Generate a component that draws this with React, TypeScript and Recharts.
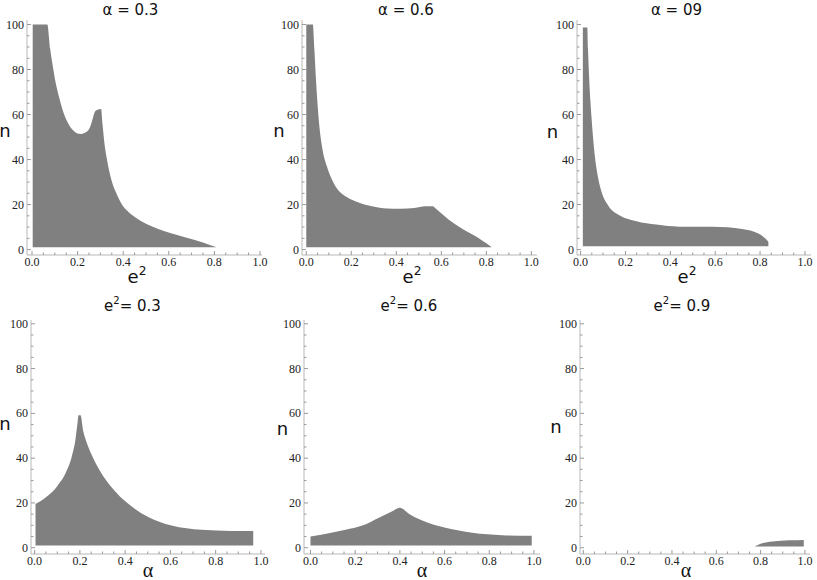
import React from 'react';
import { ComposedChart, Area, XAxis, YAxis } from 'recharts';

// ---- tick values ----
const xTicks = [0, 0.05, 0.1, 0.15, 0.2, 0.25, 0.3, 0.35, 0.4, 0.45, 0.5, 0.55, 0.6, 0.65, 0.7, 0.75, 0.8, 0.85, 0.9, 0.95, 1];
const xMajor = [0, 0.2, 0.4, 0.6, 0.8, 1];
const yTicks = [0, 5, 10, 15, 20, 25, 30, 35, 40, 45, 50, 55, 60, 65, 70, 75, 80, 85, 90, 95, 100];
const yMajor = [0, 20, 40, 60, 80, 100];

// ---- panel 1: alpha = 0.3 (n vs e^2) ----
const p1X = [0.003, 0.067, 0.08, 0.092, 0.104, 0.118, 0.133, 0.156, 0.18, 0.2, 0.213, 0.23, 0.25, 0.262, 0.276, 0.285, 0.303, 0.31, 0.318, 0.327, 0.349, 0.37, 0.393, 0.42, 0.452, 0.5, 0.554, 0.61, 0.671, 0.75, 0.81];
const p1Upper = [100, 100, 89, 81, 74, 68, 62.5, 56.6, 53, 51.6, 51.4, 51.8, 53.5, 56.6, 61.2, 62, 62.5, 55, 47, 41, 30.7, 25, 20.3, 17, 14.4, 11.5, 9.2, 7.3, 5.5, 3.2, 1];
const p1Lower = 1;

// ---- panel 2: alpha = 0.6 ----
const p2X = [0.0, 0.029, 0.036, 0.044, 0.054, 0.072, 0.091, 0.121, 0.145, 0.172, 0.217, 0.291, 0.36, 0.42, 0.48, 0.53, 0.56, 0.58, 0.632, 0.691, 0.765, 0.8, 0.824];
const p2Upper = [100, 100, 89, 74, 59.4, 44.6, 37.1, 29.7, 26, 23.8, 21.5, 19.3, 18.3, 18.2, 18.5, 19.3, 19.3, 17.8, 13.4, 9.4, 5.2, 2.8, 1];
const p2Lower = 1;

// ---- panel 3: alpha = 09 ----
const p3X = [0.01, 0.03, 0.033, 0.039, 0.048, 0.06, 0.076, 0.094, 0.123, 0.175, 0.249, 0.338, 0.44, 0.59, 0.72, 0.795, 0.825, 0.837];
const p3Upper = [98.7, 98.7, 89.4, 74.5, 59.7, 44.9, 33, 25.5, 19.6, 15.1, 12.6, 11.1, 10.2, 10.2, 9.2, 7, 4.8, 3.5];
const p3Lower = 1.5;

// ---- panel 4: e^2 = 0.3 (n vs alpha) ----
const p4X = [0.004, 0.05, 0.1, 0.14, 0.165, 0.18, 0.19, 0.194, 0.203, 0.215, 0.23, 0.252, 0.289, 0.34, 0.414, 0.502, 0.605, 0.738, 0.87, 0.966];
const p4Upper = [19.5, 22.5, 27.5, 34, 41, 48, 56, 59.2, 59.2, 52, 47, 41.5, 34.3, 27, 19.6, 13.7, 9.9, 8, 7.5, 7.5];
const p4Lower = 1;

// ---- panel 5: e^2 = 0.6 ----
const p5X = [0, 0.082, 0.157, 0.232, 0.306, 0.366, 0.4, 0.44, 0.5, 0.604, 0.724, 0.858, 0.99];
const p5Upper = [5, 6.5, 8, 9.9, 13.4, 16.3, 17.9, 15.2, 12.2, 8.9, 6.7, 5.6, 5.3];
const p5Lower = 1;

// ---- panel 6: e^2 = 0.9 ----
const p6X = [0.775, 0.8, 0.853, 0.929, 0.995];
const p6Upper = [0.7, 1.8, 2.8, 3.3, 3.5];
const p6Lower = 0.5;

const FRAME = '#b8b8b8';
const TICK = '#9a9a9a';
const FILL = '#808080';
const SERIF = '"Liberation Serif", "DejaVu Serif", serif';
const SANS = '"DejaVu Sans", sans-serif';

function buildData(xs: number[], up: number[], lo: number) {
  return xs.map((x, i) => ({ x, range: [lo, up[i]] }));
}

const isIn = (arr: number[], v: number) => arr.some((m) => Math.abs(m - v) < 1e-9);

const labelStyle: React.CSSProperties = { fontFamily: SERIF, fontSize: 12 };

function makeTick(side: 'bottom' | 'top' | 'left' | 'right') {
  return (props: any) => {
    const { x, y, payload } = props;
    const v = payload.value as number;
    const major = side === 'bottom' || side === 'top' ? isIn(xMajor, v) : isIn(yMajor, v);
    const len = major ? 4 : 2.5;
    if (side === 'bottom') {
      return (
        <g>
          <line x1={x} y1={y} x2={x} y2={y - len} stroke={TICK} strokeWidth={1} />
          {major && (
            <text x={x} y={y + 11} textAnchor="middle" style={labelStyle} fill="#222">
              {v.toFixed(1)}
            </text>
          )}
        </g>
      );
    }
    if (side === 'top') {
      return <line x1={x} y1={y} x2={x} y2={y + len} stroke={TICK} strokeWidth={1} />;
    }
    if (side === 'left') {
      return (
        <g>
          <line x1={x} y1={y} x2={x + len} y2={y} stroke={TICK} strokeWidth={1} />
          {major && (
            <text x={x - 3} y={y + 4} textAnchor="end" style={labelStyle} fill="#222">
              {String(v)}
            </text>
          )}
        </g>
      );
    }
    return <line x1={x} y1={y} x2={x - len} y2={y} stroke={TICK} strokeWidth={1} />;
  };
}

type PanelProps = {
  left: number;
  top: number;
  w: number;
  h: number;
  xDomain: [number, number];
  yDomain: [number, number];
  data: { x: number; range: number[] }[];
};

function Panel({ left, top, w, h, xDomain, yDomain, data }: PanelProps) {
  const ML = 30, MT = 8, MR = 10, MB = 22;
  return (
    <div style={{ position: 'absolute', left: left - ML, top: top - MT, width: w + ML + MR, height: h + MT + MB }}>
      <ComposedChart width={w + ML + MR} height={h + MT + MB} data={data} margin={{ top: MT, right: MR, left: 0, bottom: 0 }}>
        <XAxis xAxisId="b" dataKey="x" type="number" domain={xDomain} allowDataOverflow ticks={xTicks} interval={0}
          height={MB} tickSize={0} tickMargin={0} tickLine={false} axisLine={{ stroke: FRAME }} tick={makeTick('bottom')} />
        <XAxis xAxisId="t" orientation="top" dataKey="x" type="number" domain={xDomain} allowDataOverflow ticks={xTicks} interval={0}
          height={0} tickSize={0} tickMargin={0} tickLine={false} axisLine={{ stroke: FRAME }} tick={makeTick('top')} />
        <YAxis yAxisId="l" type="number" domain={yDomain} allowDataOverflow ticks={yTicks} interval={0}
          width={ML} tickSize={0} tickMargin={0} tickLine={false} axisLine={{ stroke: FRAME }} tick={makeTick('left')} />
        <YAxis yAxisId="r" orientation="right" type="number" domain={yDomain} allowDataOverflow ticks={yTicks} interval={0}
          width={0} tickSize={0} tickMargin={0} tickLine={false} axisLine={{ stroke: FRAME }} tick={makeTick('right')} />
        <Area xAxisId="b" yAxisId="l" type="monotone" dataKey="range" fill={FILL} fillOpacity={1} stroke="none"
          isAnimationActive={false} dot={false} activeDot={false} />
      </ComposedChart>
    </div>
  );
}

function E2({ x, y, size }: { x: number; y: number; size: number }) {
  return (
    <text x={x} y={y} style={{ fontFamily: SANS, fontSize: size }} textAnchor="middle" fill="#111">
      e<tspan style={{ fontSize: size * 0.68 }} dy={-size * 0.45}>2</tspan>
    </text>
  );
}

export default function App() {
  const topY: [number, number] = [-2.4, 102];
  const botY: [number, number] = [-2.8, 101.7];
  const titleStyle: React.CSSProperties = { fontFamily: SANS, fontSize: 15 };
  const nStyle: React.CSSProperties = { fontFamily: SANS, fontSize: 18 };
  const aStyle: React.CSSProperties = { fontFamily: SERIF, fontSize: 20 };
  return (
    <div style={{ position: 'absolute', left: 0, top: 0, width: 817, height: 580, background: '#fff', overflow: 'hidden' }}>
      <Panel left={27} top={19.5} w={235} h={235} xDomain={[-0.022, 1.009]} yDomain={topY} data={buildData(p1X, p1Upper, p1Lower)} />
      <Panel left={302} top={19.5} w={235} h={235} xDomain={[-0.019, 1.025]} yDomain={topY} data={buildData(p2X, p2Upper, p2Lower)} />
      <Panel left={577} top={19.5} w={234} h={235} xDomain={[-0.016, 1.027]} yDomain={topY} data={buildData(p3X, p3Upper, p3Lower)} />
      <Panel left={31} top={319.5} w={234} h={234} xDomain={[-0.016, 1.018]} yDomain={botY} data={buildData(p4X, p4Upper, p4Lower)} />
      <Panel left={303.5} top={319.5} w={236} h={234} xDomain={[-0.029, 1.027]} yDomain={botY} data={buildData(p5X, p5Upper, p5Lower)} />
      <Panel left={580} top={319.5} w={230} h={234} xDomain={[-0.015, 1.023]} yDomain={botY} data={buildData(p6X, p6Upper, p6Lower)} />
      <svg width={817} height={580} style={{ position: 'absolute', left: 0, top: 0, pointerEvents: 'none' }}>
        <g fill="#111" textAnchor="middle">
          <text x={130.5} y={15} style={titleStyle}>α = 0.3</text>
          <text x={406} y={15} style={titleStyle}>α = 0.6</text>
          <text x={676.5} y={15} style={titleStyle}>α = 09</text>
        </g>
        <g fill="#111" textAnchor="middle">
          <text x={132.5} y={311} style={titleStyle}>e<tspan style={{ fontSize: 10 }} dy={-7}>2</tspan><tspan dy={7}>= 0.3</tspan></text>
          <text x={409} y={311} style={titleStyle}>e<tspan style={{ fontSize: 10 }} dy={-7}>2</tspan><tspan dy={7}>= 0.6</tspan></text>
          <text x={682} y={311} style={titleStyle}>e<tspan style={{ fontSize: 10 }} dy={-7}>2</tspan><tspan dy={7}>= 0.9</tspan></text>
        </g>
        <E2 x={137} y={283} size={18} />
        <E2 x={412} y={283} size={18} />
        <E2 x={687} y={283} size={18} />
        <g fill="#111" textAnchor="middle">
          <text x={5} y={137} style={nStyle}>n</text>
          <text x={279} y={137} style={nStyle}>n</text>
          <text x={552.5} y={138} style={nStyle}>n</text>
          <text x={5} y={430} style={nStyle}>n</text>
          <text x={282.5} y={435} style={nStyle}>n</text>
          <text x={556} y={433} style={nStyle}>n</text>
        </g>
        <g fill="#111" textAnchor="middle">
          <text x={148} y={577} style={aStyle}>α</text>
          <text x={422} y={577} style={aStyle}>α</text>
          <text x={686} y={577} style={aStyle}>α</text>
        </g>
      </svg>
    </div>
  );
}
